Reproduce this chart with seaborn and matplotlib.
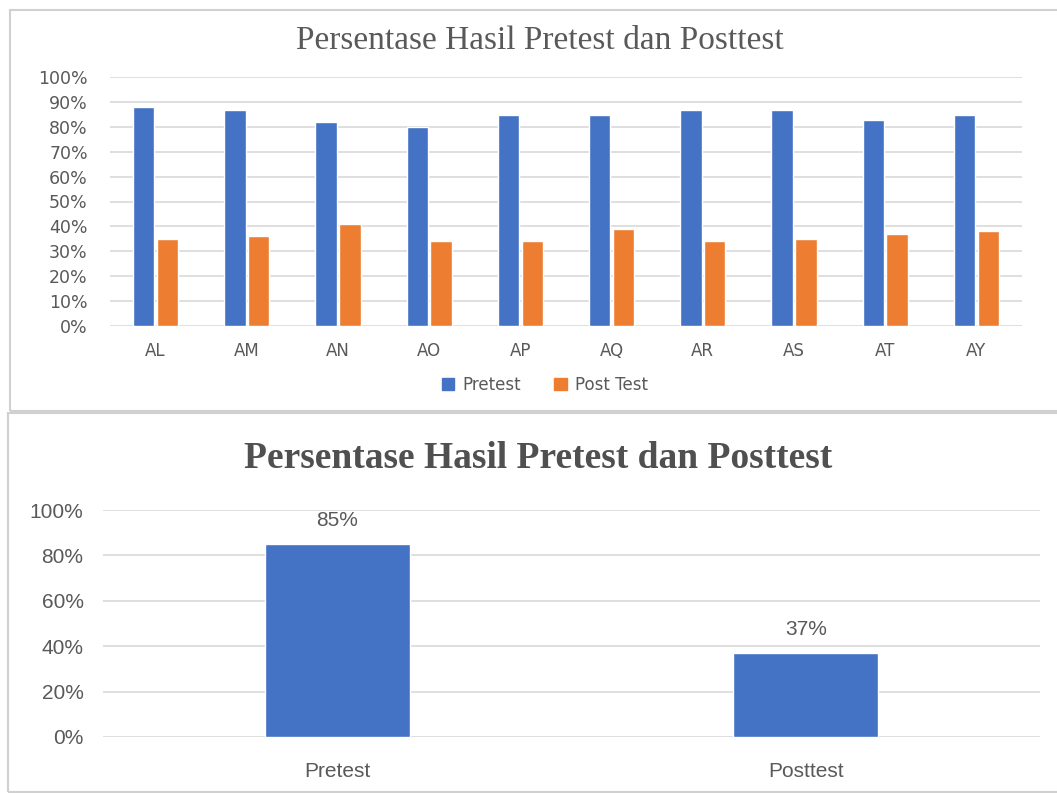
import matplotlib
matplotlib.use("Agg")
import matplotlib.pyplot as plt
import seaborn as sns
import pandas as pd
from matplotlib.patches import Rectangle
from matplotlib.ticker import PercentFormatter, MultipleLocator
from matplotlib import font_manager

# ---------------- data ----------------
students = ["AL", "AM", "AN", "AO", "AP", "AQ", "AR", "AS", "AT", "AY"]
pretest = [88, 87, 82, 80, 85, 85, 87, 87, 83, 85]
posttest = [35, 36, 41, 34, 34, 39, 34, 35, 37, 38]
series_names = ["Pretest", "Post Test"]

summary_labels = ["Pretest", "Posttest"]
summary_values = [85, 37]

chart_title = "Persentase Hasil Pretest dan Posttest"

BLUE = "#4472C4"
ORANGE = "#ED7D31"
GRID = "#D9D9D9"
TXT = "#595959"

sns.set_theme(style="white")
names = {f.name for f in font_manager.fontManager.ttflist}
narrow = "Liberation Sans Narrow" if "Liberation Sans Narrow" in names else "Liberation Sans"

fig = plt.figure(figsize=(10.57, 7.93), dpi=100)
W, H = 1057, 793

def fx(x):
    return x / W

def fy(y):
    return 1 - y / H

# panel frames
fig.patches.append(Rectangle((fx(10), fy(411)), fx(1060 - 10), fy(10) - fy(411),
                             transform=fig.transFigure, fill=False, edgecolor="#D0D0D0",
                             lw=1.5, zorder=-1))
fig.patches.append(Rectangle((fx(8), fy(792)), fx(1060 - 8), fy(413) - fy(792),
                             transform=fig.transFigure, fill=False,
                             edgecolor="#D0D0D0", lw=1.5, zorder=-1))

# ---------------- top chart ----------------
df = pd.DataFrame({
    "Siswa": students * 2,
    "Nilai": [v / 100 for v in pretest] + [v / 100 for v in posttest],
    "Tes": [series_names[0]] * len(students) + [series_names[1]] * len(students),
})

ax1 = fig.add_axes([fx(110), fy(325.7), fx(1022 - 110), fy(77.3) - fy(325.7)])
sns.barplot(data=df, x="Siswa", y="Nilai", hue="Tes", palette=[BLUE, ORANGE],
            width=0.52, gap=0.1, ax=ax1, saturation=1, errorbar=None, zorder=3)
ax1.set_ylim(0, 1.0)
ax1.yaxis.set_major_locator(MultipleLocator(0.1))
ax1.yaxis.set_major_formatter(PercentFormatter(1.0, decimals=0))
ax1.grid(axis="y", color=GRID, lw=1.2, zorder=0)
ax1.set_axisbelow(True)
for s in ax1.spines.values():
    s.set_visible(False)
ax1.set_xlabel("")
ax1.set_ylabel("")
ax1.tick_params(axis="y", length=0, pad=16, labelsize=12.5, labelcolor=TXT)
ax1.tick_params(axis="x", length=0, pad=12, labelsize=12, labelcolor=TXT)
for lab in ax1.get_yticklabels() + ax1.get_xticklabels():
    lab.set_family("DejaVu Sans")
ax1.get_legend().remove()
handles = [Rectangle((0, 0), 1, 1, color=BLUE), Rectangle((0, 0), 1, 1, color=ORANGE)]
fig.legend(handles, series_names, loc="center", bbox_to_anchor=(fx(545), fy(385)),
           ncol=2, frameon=False, handlelength=0.75, handleheight=0.75,
           handletextpad=0.5, columnspacing=2.0,
           prop={"family": "DejaVu Sans", "size": 12}, labelcolor=TXT)
fig.text(fx(540), fy(41), chart_title, ha="center", va="center",
         family="Liberation Serif", fontsize=24, color=TXT)

# ---------------- bottom chart ----------------
df2 = pd.DataFrame({"Tes": summary_labels, "Nilai": [v / 100 for v in summary_values]})
ax2 = fig.add_axes([fx(103), fy(737), fx(1040 - 103), fy(510) - fy(737)])
sns.barplot(data=df2, x="Tes", y="Nilai", color=BLUE, saturation=1, width=0.31,
            errorbar=None, ax=ax2, zorder=3)
ax2.set_ylim(0, 1.0)
ax2.yaxis.set_major_locator(MultipleLocator(0.2))
ax2.yaxis.set_major_formatter(PercentFormatter(1.0, decimals=0))
ax2.grid(axis="y", color=GRID, lw=1.2, zorder=0)
ax2.set_axisbelow(True)
for s in ax2.spines.values():
    s.set_visible(False)
ax2.set_xlabel("")
ax2.set_ylabel("")
ax2.tick_params(axis="y", length=0, pad=14, labelsize=15, labelcolor=TXT)
ax2.tick_params(axis="x", length=0, pad=18, labelsize=15, labelcolor=TXT)
for lab in ax2.get_yticklabels() + ax2.get_xticklabels():
    lab.set_family(narrow)
for i, v in enumerate(summary_values):
    ax2.annotate(f"{v}%", (i, v / 100), xytext=(0, 10), textcoords="offset points",
                 ha="center", va="bottom", fontsize=15, color=TXT, family=narrow)
fig.text(fx(538), fy(458), chart_title, ha="center", va="center",
         family="Liberation Serif", fontweight="bold", fontsize=27, color="#505050")

fig.savefig("out.png", dpi=100)
